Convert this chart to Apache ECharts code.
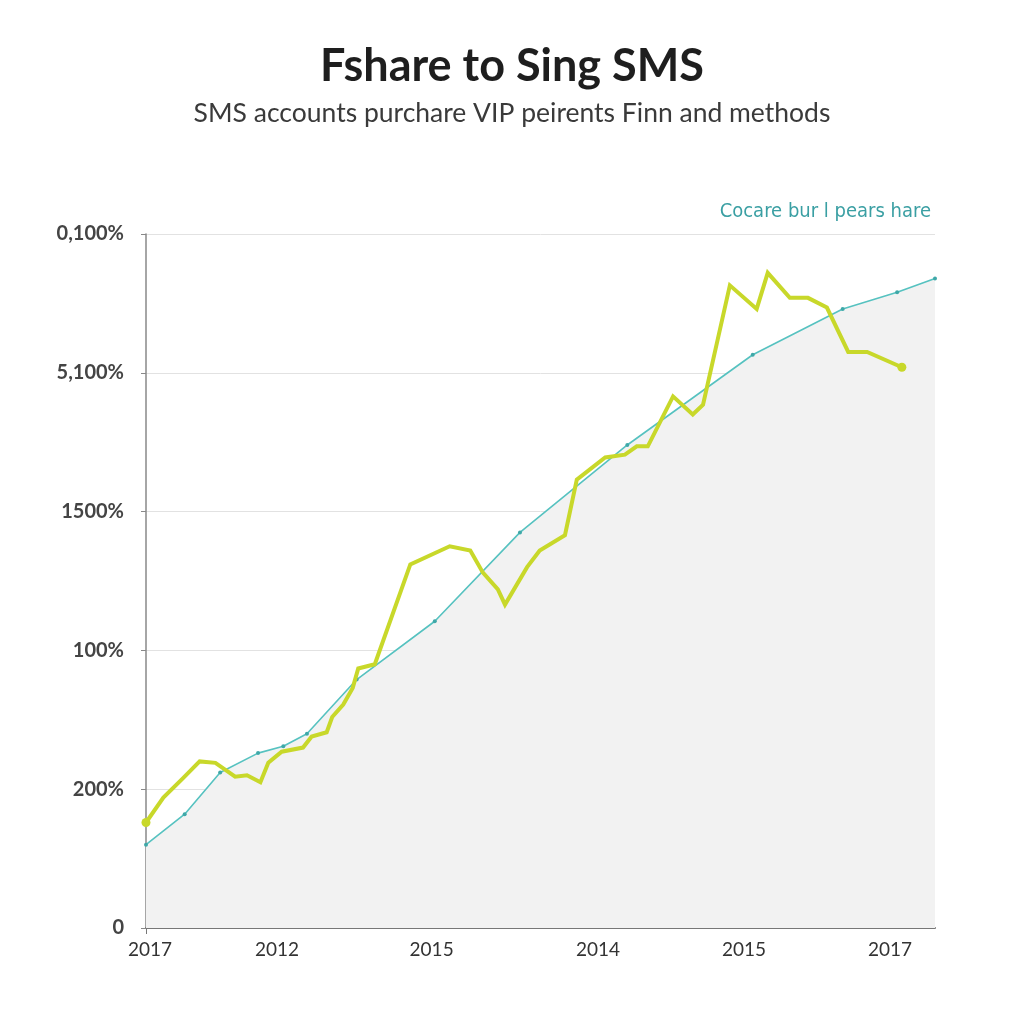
<!DOCTYPE html>
<html><head><meta charset="utf-8">
<script src="https://cdn.jsdelivr.net/npm/echarts@6/dist/echarts.min.js"></script>
<style>html,body{margin:0;padding:0;background:#fff}#c{width:1024px;height:1024px}</style>
</head><body><div id="c"></div>
<script>
const yTickLabels = ['0', '200%', '100%', '1500%', '5,100%', '0,100%'];
const xTickPositions = [0.5, 16.6, 36.2, 57.3, 75.8, 94.3];
const xTickLabels = ['2017', '2012', '2015', '2014', '2015', '2017'];

const tealX = [0, 4.9, 9.4, 14.2, 17.4, 20.4, 26.7, 36.6, 47.4, 61.0, 76.9, 88.3, 95.2, 100];
const tealY = [0.60, 0.82, 1.12, 1.26, 1.31, 1.40, 1.79, 2.21, 2.85, 3.48, 4.13, 4.46, 4.58, 4.68];

const limeX = [0, 2.2, 4.7, 6.8, 8.8, 11.3, 12.8, 14.5, 15.5, 17.2, 19.9, 21.0, 22.9, 23.6, 25.0, 26.2, 26.9, 29.0,
  33.5, 38.5, 41.1, 42.7, 44.6, 45.5, 48.3, 49.9, 53.1, 54.6, 58.2, 60.7, 62.2, 63.6, 66.8, 69.3, 70.6,
  74.0, 77.4, 78.8, 81.6, 83.9, 86.3, 89.0, 91.4, 95.8];
const limeY = [0.76, 0.94, 1.08, 1.20, 1.19, 1.09, 1.10, 1.05, 1.19, 1.27, 1.30, 1.38, 1.41, 1.52, 1.61, 1.73, 1.87, 1.90,
  2.62, 2.75, 2.72, 2.56, 2.44, 2.33, 2.60, 2.72, 2.83, 3.23, 3.39, 3.41, 3.47, 3.47, 3.83, 3.70, 3.77,
  4.63, 4.46, 4.72, 4.54, 4.54, 4.47, 4.15, 4.15, 4.04];

const teal = tealX.map((x, i) => [x, tealY[i]]);
const lime = limeX.map((x, i) => [x, limeY[i]]);

const chart = echarts.init(document.getElementById('c'));
chart.setOption({
  backgroundColor: '#ffffff',
  animation: false,
  title: [
    { text: 'Fshare to Sing SMS', left: 'center', top: 39,
      textStyle: { fontFamily: 'Lato', fontWeight: 'bold', fontSize: 45, color: '#1e1e1e' } },
    { text: 'SMS accounts purchare VIP peirents Finn and methods', left: 'center', top: 95,
      textStyle: { fontFamily: 'Lato', fontWeight: 'normal', fontSize: 26.5, color: '#3a3a3a' } },
    { text: 'Cocare bur l pears hare', right: 88, top: 197,
      textStyle: { fontFamily: 'DejaVu Sans Condensed', fontWeight: 'normal', fontSize: 20, color: '#3a9fa3' } }
  ],
  grid: { left: 146, right: 89, top: 234, bottom: 96 },
  xAxis: {
    type: 'value', min: 0, max: 100,
    axisLine: { show: true, lineStyle: { color: '#777', width: 2 } },
    axisTick: { show: true, customValues: [0], length: 6, lineStyle: { color: '#777' } },
    splitLine: { show: false },
    axisLabel: {
      customValues: xTickPositions,
      formatter: (v) => xTickLabels[xTickPositions.indexOf(v)] || '',
      fontFamily: 'Lato', fontSize: 19, color: '#333', margin: 12
    }
  },
  yAxis: {
    type: 'value', min: 0, max: 5, interval: 1,
    axisLine: { show: true, lineStyle: { color: '#888', width: 1.5 } },
    axisTick: { show: true, length: 5, lineStyle: { color: '#888' } },
    splitLine: { show: true, lineStyle: { color: '#e2e2e2', width: 1 } },
    axisLabel: {
      formatter: (v) => yTickLabels[Math.round(v)],
      fontFamily: 'Lato', fontWeight: 'bold', fontSize: 20, color: '#444', margin: 22
    }
  },
  series: [
    {
      type: 'line', name: 'teal', data: teal,
      symbol: 'circle', symbolSize: 4, showSymbol: true,
      lineStyle: { color: '#56c2c0', width: 1.6 },
      itemStyle: { color: '#3fa8a8' },
      areaStyle: { color: '#f2f2f2', opacity: 1 },
      z: 2
    },
    {
      type: 'line', name: 'lime', data: lime,
      symbol: 'circle', symbolSize: (v, p) => (p.dataIndex === 0 || p.dataIndex === lime.length - 1) ? 9 : 0,
      showSymbol: true,
      lineStyle: { color: '#c8d82a', width: 4, join: 'miter' },
      itemStyle: { color: '#c8d82a' },
      z: 3
    }
  ]
});
</script></body></html>
